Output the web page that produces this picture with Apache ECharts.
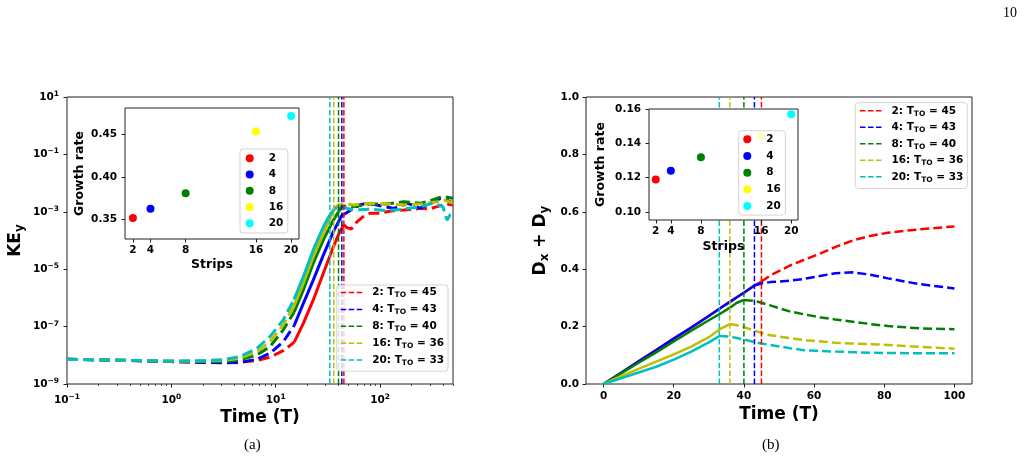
<!DOCTYPE html>
<html>
<head>
<meta charset="utf-8">
<script src="https://cdn.jsdelivr.net/npm/echarts@6/dist/echarts.min.js"></script>
<style>
html, body { margin: 0; padding: 0; background: #fff; }
#chart { width: 1027px; height: 461px; }
</style>
</head>
<body>
<div id="chart"></div>
<script>
var FONT = 'DejaVu Sans';

// cases: number of strips and turnover time T_TO
var strips = [2, 4, 8, 16, 20];
var tto = [45, 43, 40, 36, 33];
var lineColors = ['#ff0000', '#0000ff', '#008000', '#bfbf00', '#00bfbf'];
var dotColors = ['#ff0000', '#0000ff', '#008000', '#ffff00', '#00ffff'];

// inset growth rates
var rateKE = [0.352, 0.363, 0.381, 0.454, 0.472];
var rateD = [0.119, 0.124, 0.132, 0.144, 0.157];

// (a) KE_y : time (T) and log10(KE_y)
var keTime2 = [0.1, 0.3, 1, 2, 3.2, 4.5, 6.6, 8.8, 11.8, 15, 18.4, 22.9, 28.6, 35.7, 41, 45, 48, 53, 60, 69, 80, 100, 116, 140, 168, 200, 243, 300, 351, 437, 500];
var keLog2 = [-8.14, -8.17, -8.22, -8.24, -8.25, -8.25, -8.18, -8.07, -7.84, -7.55, -6.89, -6.07, -5.14, -4.22, -3.7, -3.45, -3.55, -3.6, -3.35, -3.17, -3.05, -3.05, -3.0, -2.95, -2.94, -2.92, -2.88, -2.9, -2.82, -2.73, -2.76];
var keTime4 = [0.1, 0.3, 1, 2, 3.2, 4.5, 6.6, 8.8, 11.8, 15, 18.4, 22.9, 28.6, 35.7, 41.5, 43, 47, 55.6, 65, 75, 93, 110, 135, 160, 181, 210, 243, 280, 324, 380, 440, 500];
var keLog4 = [-8.14, -8.17, -8.22, -8.25, -8.26, -8.25, -8.14, -7.93, -7.53, -6.97, -6.19, -5.38, -4.51, -3.69, -3.23, -3.12, -3.05, -2.88, -2.75, -2.70, -2.76, -2.82, -2.88, -2.8, -2.70, -2.78, -2.88, -2.75, -2.65, -2.53, -2.6, -2.70];
var keTime8 = [0.1, 0.3, 1, 2, 3.2, 4.5, 6.6, 8.8, 11.8, 15, 18.4, 22.9, 28.6, 35.7, 40, 43, 55.6, 80, 116, 168, 243, 300, 351, 400, 450, 500];
var keLog8 = [-8.14, -8.17, -8.21, -8.22, -8.22, -8.16, -7.99, -7.70, -7.12, -6.5, -5.72, -4.79, -3.98, -3.29, -3.0, -2.8, -2.82, -2.73, -2.73, -2.65, -2.70, -2.62, -2.53, -2.47, -2.5, -2.53];
var keTime16 = [0.1, 0.3, 1, 2, 3.2, 4.5, 6.6, 8.8, 11.8, 15, 18.4, 22.9, 28.6, 33, 36, 40, 48, 55.6, 80, 116, 168, 243, 351, 420, 500];
var keLog16 = [-8.14, -8.17, -8.2, -8.2, -8.18, -8.10, -7.88, -7.53, -6.94, -6.28, -5.49, -4.56, -3.75, -3.25, -2.9, -2.76, -2.72, -2.76, -2.70, -2.73, -2.76, -2.73, -2.65, -2.6, -2.70];
var keTime20 = [0.1, 0.3, 1, 2, 3.2, 4.5, 6.6, 8.8, 11.8, 15, 18.4, 22.9, 28.6, 33, 37, 45, 55.6, 80, 116, 168, 243, 324, 400, 437, 470, 500];
var keLog20 = [-8.14, -8.17, -8.2, -8.19, -8.15, -8.05, -7.76, -7.35, -6.77, -6.05, -5.26, -4.33, -3.52, -3.11, -2.88, -2.85, -2.94, -2.91, -2.96, -2.91, -2.82, -2.70, -2.82, -3.29, -3.1, -3.05];
var fitStart = 15; // solid part of (a) starts here

// (b) D_x + D_y
var timeB = [0, 5, 10, 15, 20, 25, 30, 33, 36, 38, 40, 43, 45, 47.5, 53, 57, 62, 66, 71, 76, 81, 90, 100];
var d2 = [0, 0.039, 0.079, 0.118, 0.158, 0.197, 0.237, 0.262, 0.286, 0.302, 0.318, 0.343, 0.357, 0.378, 0.412, 0.432, 0.456, 0.477, 0.500, 0.516, 0.527, 0.539, 0.549];
var d4 = [0, 0.039, 0.079, 0.118, 0.158, 0.197, 0.237, 0.262, 0.286, 0.302, 0.318, 0.343, 0.35, 0.355, 0.36, 0.366, 0.377, 0.386, 0.389, 0.381, 0.368, 0.348, 0.333];
var d8 = [0, 0.037, 0.074, 0.11, 0.148, 0.186, 0.222, 0.243, 0.266, 0.283, 0.293, 0.29, 0.283, 0.274, 0.253, 0.243, 0.232, 0.225, 0.217, 0.209, 0.202, 0.194, 0.191];
var d16 = [0, 0.027, 0.053, 0.078, 0.103, 0.13, 0.163, 0.19, 0.209, 0.205, 0.198, 0.186, 0.178, 0.17, 0.16, 0.153, 0.148, 0.144, 0.141, 0.139, 0.136, 0.13, 0.123];
var d20 = [0, 0.02, 0.04, 0.06, 0.085, 0.113, 0.145, 0.167, 0.165, 0.16, 0.155, 0.146, 0.141, 0.136, 0.125, 0.118, 0.115, 0.113, 0.111, 0.109, 0.108, 0.107, 0.107];

// ticks
var logTimeTicks = [-1, 0, 1, 2];
var logKeTicks = [-9, -7, -5, -3, -1, 1];
var timeTicksB = [0, 20, 40, 60, 80, 100];
var rateTicksA = [0.35, 0.40, 0.45];
var rateTicksB = [0.10, 0.12, 0.14, 0.16];

var keTimes = [keTime2, keTime4, keTime8, keTime16, keTime20];
var keLogs = [keLog2, keLog4, keLog8, keLog16, keLog20];
var dVals = [d2, d4, d8, d16, d20];

var minorTicks = [];
[-1, 0, 1, 2].forEach(function (d) {
    for (var k = 2; k <= 9; k++) {
        var v = k * Math.pow(10, d);
        if (v <= 500) minorTicks.push(Math.log10(v));
    }
});

function pairs(ts, vs, lo, hi, logX) {
    var out = [];
    for (var i = 0; i < ts.length; i++) {
        if (ts[i] >= lo && ts[i] <= hi) out.push([logX ? Math.log10(ts[i]) : ts[i], vs[i]]);
    }
    return out;
}

function supLabel(v) {
    var e = Math.round(v);
    return '{b|10}{s|' + (e < 0 ? '\u2212' + (-e) : e) + '}';
}

var txt = {fontFamily: FONT, fontWeight: 'bold', color: '#000'};
var supRich = {
    b: {fontFamily: FONT, fontWeight: 'bold', color: '#000', fontSize: 10.5, lineHeight: 14},
    s: {fontFamily: FONT, fontWeight: 'bold', color: '#000', fontSize: 7.5, lineHeight: 8, verticalAlign: 'top'}
};
var subRich = function (big, small, lh) {
    return {
        n: {fontFamily: FONT, fontWeight: 'bold', color: '#000', fontSize: big, lineHeight: lh},
        s: {fontFamily: FONT, fontWeight: 'bold', color: '#000', fontSize: small, lineHeight: small, verticalAlign: 'bottom'}
    };
};
var tick = {show: true, length: 3.5, lineStyle: {color: '#222', width: 1}};
var noLine = {show: false, onZero: false};

function gridOf(l, t, w, h, z) {
    return {left: l, top: t, width: w, height: h, show: true, backgroundColor: '#fff',
        borderColor: '#222', borderWidth: 1, containLabel: false, outerBoundsMode: 'none', z: z};
}

var series = [];

// (a) curves
for (var k = 0; k < 5; k++) {
    var base = {type: 'line', xAxisIndex: 0, yAxisIndex: 0, symbol: 'none', silent: true, z: 2};
    series.push(Object.assign({}, base, {
        data: pairs(keTimes[k], keLogs[k], 0, fitStart, true),
        lineStyle: {color: lineColors[k], width: 3, type: [11, 5]}
    }));
    series.push(Object.assign({}, base, {
        data: pairs(keTimes[k], keLogs[k], fitStart, tto[k], true),
        lineStyle: {color: lineColors[k], width: 3, type: 'solid'}
    }));
    series.push(Object.assign({}, base, {
        data: pairs(keTimes[k], keLogs[k], tto[k], 1e9, true),
        lineStyle: {color: lineColors[k], width: 3, type: [11, 5]}
    }));
}
// (a) T_TO lines
for (var k = 0; k < 5; k++) {
    series.push({
        type: 'line', name: 'v' + k, xAxisIndex: 0, yAxisIndex: 0, symbol: 'none', silent: true, z: 2,
        color: lineColors[k],
        data: [[Math.log10(tto[k]), -9], [Math.log10(tto[k]), 1]],
        lineStyle: {color: lineColors[k], width: 1.5, type: [5.5, 2.4]}
    });
}
// (b) curves
for (var k = 0; k < 5; k++) {
    var baseB = {type: 'line', xAxisIndex: 3, yAxisIndex: 2, symbol: 'none', silent: true, z: 2};
    series.push(Object.assign({}, baseB, {
        data: pairs(timeB, dVals[k], -1, tto[k], false),
        lineStyle: {color: lineColors[k], width: 2.5, type: 'solid'}
    }));
    series.push(Object.assign({}, baseB, {
        data: pairs(timeB, dVals[k], tto[k], 1e9, false),
        lineStyle: {color: lineColors[k], width: 2.5, type: [9, 4]}
    }));
}
// (b) T_TO lines
for (var k = 0; k < 5; k++) {
    series.push({
        type: 'line', name: 'v' + k, xAxisIndex: 3, yAxisIndex: 2, symbol: 'none', silent: true, z: 2,
        color: lineColors[k],
        data: [[tto[k], 0], [tto[k], 1]],
        lineStyle: {color: lineColors[k], width: 1.5, type: [5.5, 2.4]}
    });
}
// insets
for (var k = 0; k < 5; k++) {
    series.push({type: 'scatter', name: 'p' + k, xAxisIndex: 2, yAxisIndex: 1, symbolSize: 8, z: 6, silent: true,
        itemStyle: {color: dotColors[k], opacity: 1}, data: [[strips[k], rateKE[k]]]});
    series.push({type: 'scatter', name: 'p' + k, xAxisIndex: 4, yAxisIndex: 3, symbolSize: 8, z: 6, silent: true,
        itemStyle: {color: dotColors[k], opacity: 1}, data: [[strips[k], rateD[k]]]});
}

var dashIcon = 'path://M0,0H5.5V1.5H0Z M8,0H13.5V1.5H8Z M16,0H21.5V1.5H16Z';
function ttoLegend(left, top, pad, gap) {
    return {
        orient: 'vertical', left: left, top: top, padding: pad, itemGap: gap,
        icon: dashIcon, itemWidth: 21.5, itemHeight: 1.5, symbolKeepAspect: false,
        selectedMode: false, backgroundColor: 'rgba(255,255,255,0.8)', borderColor: '#d4d4d4',
        borderWidth: 1, borderRadius: 3, z: 4,
        data: strips.map(function (s, i) {
            return {name: 'v' + i, itemStyle: {color: lineColors[i], borderWidth: 0, opacity: 1}};
        }),
        formatter: function (name) {
            var i = +name.slice(1);
            return '{n|' + strips[i] + ': T}{s|TO}{n| = ' + tto[i] + '}';
        },
        textStyle: {padding: [0, 0, 0, 5], rich: subRich(10.5, 7.5, 14)}
    };
}
function dotLegend(left, top, pad, gap) {
    return {
        orient: 'vertical', left: left, top: top, padding: pad, itemGap: gap,
        icon: 'circle', itemWidth: 20, itemHeight: 8, selectedMode: false,
        backgroundColor: 'rgba(255,255,255,0.8)', borderColor: '#d4d4d4', borderWidth: 1, borderRadius: 3, z: 7,
        data: strips.map(function (s, i) {
            return {name: 'p' + i, itemStyle: {color: dotColors[i], borderWidth: 0, opacity: 1}};
        }),
        formatter: function (name) { return String(strips[+name.slice(1)]); },
        textStyle: Object.assign({fontSize: 10.5, lineHeight: 12, padding: [0, 0, 0, 4]}, txt)
    };
}

var option = {
    animation: false,
    backgroundColor: '#fff',
    grid: [
        gridOf(67, 97, 386, 287, 0),
        gridOf(125, 108, 174, 131, 5),
        gridOf(586, 97, 386, 287, 0),
        gridOf(649, 109, 149, 111, 5)
    ],
    xAxis: [
        {gridIndex: 0, type: 'value', position: 'bottom', min: -1, max: Math.log10(500), axisLine: noLine, splitLine: {show: false},
            axisTick: Object.assign({customValues: logTimeTicks}, tick),
            axisLabel: {customValues: logTimeTicks, formatter: supLabel, margin: 9, rich: supRich},
            name: 'Time (T)', nameLocation: 'middle', nameGap: 25, nameMoveOverlap: false,
            nameTextStyle: Object.assign({fontSize: 17}, txt)},
        {gridIndex: 0, type: 'value', position: 'bottom', min: -1, max: Math.log10(500), axisLine: noLine, splitLine: {show: false},
            axisTick: {show: true, length: 2, customValues: minorTicks, lineStyle: {color: '#222', width: 0.8}},
            axisLabel: {show: false}},
        {gridIndex: 1, type: 'value', position: 'bottom', min: 1.1, max: 20.9, axisLine: noLine, splitLine: {show: false}, z: 6,
            axisTick: Object.assign({customValues: strips}, tick),
            axisLabel: Object.assign({customValues: strips, margin: 6, fontSize: 10.5}, txt),
            name: 'Strips', nameLocation: 'middle', nameGap: 19, nameMoveOverlap: false,
            nameTextStyle: Object.assign({fontSize: 12.5}, txt)},
        {gridIndex: 2, type: 'value', position: 'bottom', min: -5, max: 105, axisLine: noLine, splitLine: {show: false},
            axisTick: Object.assign({customValues: timeTicksB}, tick),
            axisLabel: Object.assign({customValues: timeTicksB, margin: 7, fontSize: 10.5}, txt),
            name: 'Time (T)', nameLocation: 'middle', nameGap: 22, nameMoveOverlap: false,
            nameTextStyle: Object.assign({fontSize: 17}, txt)},
        {gridIndex: 3, type: 'value', position: 'bottom', min: 1.1, max: 20.9, axisLine: noLine, splitLine: {show: false}, z: 6,
            axisTick: Object.assign({customValues: strips}, tick),
            axisLabel: Object.assign({customValues: strips, margin: 6, fontSize: 10.5}, txt),
            name: 'Strips', nameLocation: 'middle', nameGap: 20, nameMoveOverlap: false,
            nameTextStyle: Object.assign({fontSize: 12.5}, txt)}
    ],
    yAxis: [
        {gridIndex: 0, type: 'value', position: 'left', min: -9, max: 1, axisLine: noLine, splitLine: {show: false},
            axisTick: Object.assign({customValues: logKeTicks}, tick),
            axisLabel: {customValues: logKeTicks, formatter: supLabel, margin: 8, rich: supRich},
            name: '{n|KE}{s|y}', nameLocation: 'middle', nameGap: 41, nameRotate: 90, nameMoveOverlap: false,
            nameTextStyle: {rich: subRich(17, 12, 20)}},
        {gridIndex: 1, type: 'value', position: 'left', min: 0.3273, max: 0.4814, axisLine: noLine, splitLine: {show: false}, z: 6,
            axisTick: Object.assign({customValues: rateTicksA}, tick),
            axisLabel: Object.assign({customValues: rateTicksA, margin: 8, fontSize: 10.5,
                formatter: function (v) { return v.toFixed(2); }}, txt),
            name: 'Growth rate', nameLocation: 'middle', nameGap: 39, nameRotate: 90, nameMoveOverlap: false,
            nameTextStyle: Object.assign({fontSize: 12.5}, txt)},
        {gridIndex: 2, type: 'value', position: 'left', min: 0, max: 1, interval: 0.2, axisLine: noLine, splitLine: {show: false},
            axisTick: tick,
            axisLabel: Object.assign({margin: 7, fontSize: 10.5, formatter: function (v) { return v.toFixed(1); }}, txt),
            name: '{n|D}{s|x}{n| + D}{s|y}', nameLocation: 'middle', nameGap: 35, nameRotate: 90, nameMoveOverlap: false,
            nameTextStyle: {rich: subRich(17, 12, 20)}},
        {gridIndex: 3, type: 'value', position: 'left', min: 0.0953, max: 0.1601, axisLine: noLine, splitLine: {show: false}, z: 6,
            axisTick: Object.assign({customValues: rateTicksB}, tick),
            axisLabel: Object.assign({customValues: rateTicksB, margin: 8, fontSize: 10.5,
                formatter: function (v) { return v.toFixed(2); }}, txt),
            name: 'Growth rate', nameLocation: 'middle', nameGap: 42, nameRotate: 90, nameMoveOverlap: false,
            nameTextStyle: Object.assign({fontSize: 12.5}, txt)}
    ],
    legend: [
        ttoLegend(336.7, 285, [2, 4, 4, 4], 4.4),
        dotLegend(240, 149, [3.3, 4.5, 3.7, 5.7], 4.25),
        ttoLegend(855.3, 102.7, [2.6, 4, 4.7, 4.7], 4),
        dotLegend(738.7, 130.7, [2.6, 4.5, 3, 4.6], 4.7)
    ],
    graphic: [
        {type: 'text', left: 244, top: 438, style: {text: '(a)', font: '15px "Liberation Serif"', fill: '#000'}},
        {type: 'text', left: 762, top: 438, style: {text: '(b)', font: '15px "Liberation Serif"', fill: '#000'}},
        {type: 'text', left: 1003, top: 6, style: {text: '10', font: '14px "Liberation Serif"', fill: '#000'}}
    ],
    series: series
};

var chart = echarts.init(document.getElementById('chart'));
chart.setOption(option);
</script>
</body>
</html>
